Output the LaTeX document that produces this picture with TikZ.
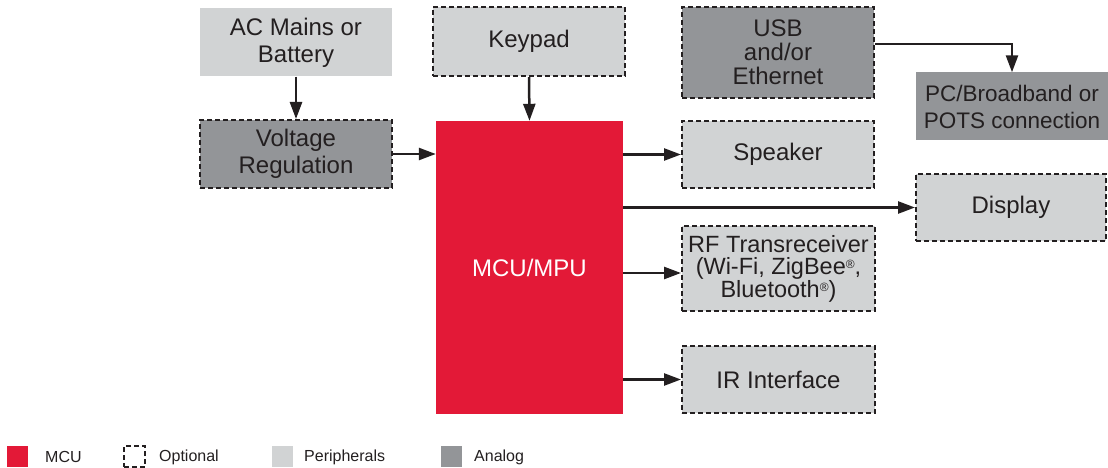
\documentclass[tikz,border=0pt]{standalone}
\usepackage{fontspec}
\setmainfont{Liberation Sans}
\usetikzlibrary{arrows.meta}
\definecolor{lgray}{HTML}{D1D3D4}
\definecolor{dgray}{HTML}{939598}
\definecolor{mcured}{HTML}{E31937}
\definecolor{ink}{HTML}{231F20}
\newcommand{\regmark}{\raisebox{6pt}{\fontsize{12}{12}\selectfont ®}}
\begin{document}
\begin{tikzpicture}[x=1pt,y=-1pt,
  box/.style={inner sep=0pt, align=center, text=ink,
    font=\fontsize{24}{27}\selectfont, minimum width=192pt, minimum height=68pt},
  opt/.style={draw=ink, line width=2pt, dash pattern=on 5pt off 3pt},
  periph/.style={fill=lgray},
  analog/.style={fill=dgray},
  conn/.style={draw=ink, line width=2.5pt, -{Triangle[length=17pt,width=12pt]}},
  legbox/.style={minimum size=21pt, inner sep=0pt},
  legtxt/.style={anchor=west, text=ink, font=\fontsize{16}{19}\selectfont, inner sep=0pt}
]
\useasboundingbox (0,0) rectangle (1108,468);

\node[box, periph] (ac) at (296,42.5) {AC Mains or\\Battery};
\node[box, periph, opt, minimum height=69pt] (key) at (529,41.5) {Keypad};
\node[box, analog, opt] (vr) at (296,154) {Voltage\\Regulation};
\node[box, fill=mcured, text=white, minimum width=187pt, minimum height=293pt] (mcu) at (529.5,267.5) {MCU/MPU};
\node[box, analog, opt, minimum height=91pt, font=\fontsize{24}{24}\selectfont] (usb) at (778,52.5) {USB\\and/or\\Ethernet};
\node[box, analog, font=\fontsize{22.5}{27}\selectfont] (pc) at (1012,106.5) {PC/Broadband or\\POTS connection};
\node[box, periph, opt, minimum height=67pt] (spk) at (778,154.5) {Speaker};
\node[box, periph, opt, minimum width=190pt, minimum height=67pt] (disp) at (1011,207.5) {Display};
\node[box, periph, opt, minimum width=193pt, minimum height=85pt, font=\fontsize{23.5}{22.5}\selectfont] (rf) at (778.5,268.5) {RF Transreceiver\\(Wi-Fi, ZigBee\regmark,\\Bluetooth\regmark)};
\node[box, periph, opt, minimum width=193pt, minimum height=67pt] (ir) at (778.5,379.5) {IR Interface};

\draw[conn] (ac.south) -- (vr.north);
\draw[conn] (key.south) -- (mcu.north);
\draw[conn] (vr.east) -- (mcu.west |- vr.east);
\draw[conn] (mcu.east |- spk.west) -- (spk.west);
\draw[conn] (mcu.east |- disp.west) -- (disp.west);
\draw[conn] (mcu.east |- 0,273) -- (rf.west |- 0,273);
\draw[conn] (mcu.east |- ir.west) -- (ir.west);
\draw[conn] (usb.east |- 0,44) -| (pc.north);

% legend
\node[legbox, fill=mcured] (l1) at (17,456.5) {};
\node[legtxt] (t1) at (45,457) {MCU};
\node[legbox, opt] (l2) at (134.5,456.5) {};
\node[legtxt] (t2) at (159,457) {Optional};
\node[legbox, fill=lgray] (l3) at (282.5,456.5) {};
\node[legtxt] (t3) at (304,457) {Peripherals};
\node[legbox, fill=dgray] (l4) at (451,456.5) {};
\node[legtxt] (t4) at (474,457) {Analog};
\end{tikzpicture}
\end{document}
